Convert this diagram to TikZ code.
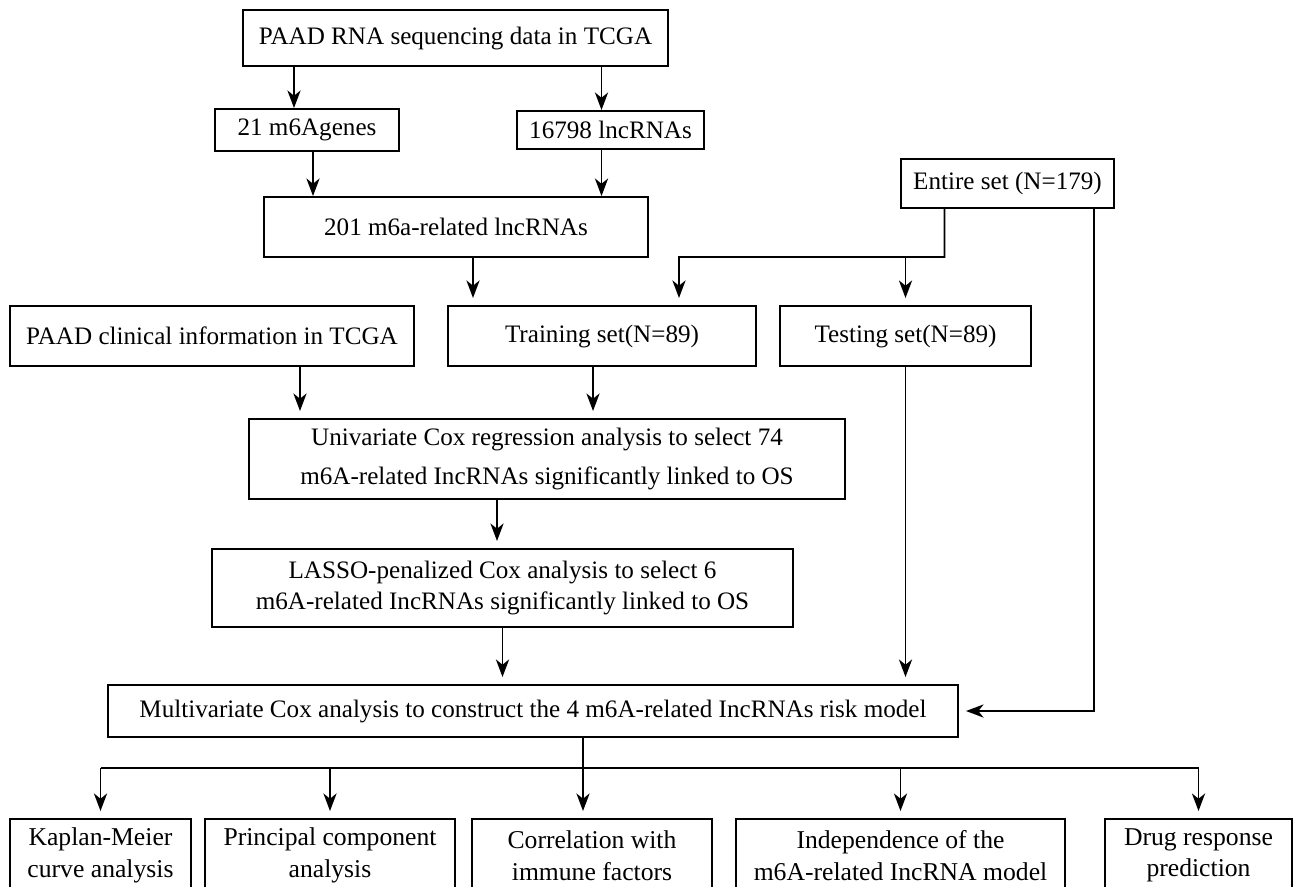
\documentclass[tikz,border=0pt]{standalone}
\usepackage{fontspec}
\setmainfont{Liberation Serif}
\usetikzlibrary{arrows.meta, calc}

\begin{document}
\begin{tikzpicture}[
  x=0.02cm, y=-0.02cm,
  box/.style={rectangle, draw, line width=1.1pt, align=center, inner sep=0pt,
              font=\fontsize{14.3}{18}\selectfont},
  boxsize/.style 2 args={minimum width=#1*0.02cm, minimum height=#2*0.02cm},
  result/.style={box, font=\fontsize{14.6}{18}\selectfont},
  line/.style={line width=0.9pt},
  arrow/.style={-{Stealth[length=10pt, width=7.5pt, inset=3pt]}, line width=0.9pt, shorten >=4pt},
  toparrow/.style={arrow, shorten >=0pt},
]
  \useasboundingbox (0,0) rectangle (1293,886);
  \clip (0,0) rectangle (1293,886);

  % data sources
  \node[box, boxsize={425}{56}] (rnaseq) at (455.5,38) {PAAD RNA sequencing data in TCGA};
  \node[box, boxsize={184}{42}] (mgenes) at (307,130) {21 m6Agenes};
  \node[box, boxsize={187}{38}] (lnc) at (610.5,130) {16798 lncRNAs};
  \node[box, boxsize={384}{60}] (related) at (456,227) {201 m6a-related lncRNAs};
  \node[box, boxsize={213}{49}] (entire) at (1007.5,183.5) {Entire set (N=179)};

  % sets
  \node[box, boxsize={404}{60}] (clinical) at (212,336) {PAAD clinical information in TCGA};
  \node[box, boxsize={308}{60}] (training) at (602,336) {Training set(N=89)};
  \node[box, boxsize={251}{60}] (testing) at (905.5,336) {Testing set(N=89)};

  % model building
  \node[box, boxsize={596}{80}, font=\fontsize{14.3}{22}\selectfont] (univ) at (547,459)
    {Univariate Cox regression analysis to select 74\\m6A-related IncRNAs significantly linked to OS};
  \node[box, boxsize={581}{78}] (lasso) at (502.5,588)
    {LASSO-penalized Cox analysis to select 6\\m6A-related IncRNAs significantly linked to OS};
  \node[box, boxsize={850}{52}] (multi) at (533,711)
    {Multivariate Cox analysis to construct the 4 m6A-related IncRNAs risk model};

  % results
  \node[result, boxsize={181}{73}] (km) at (100.5,855.5) {Kaplan-Meier\\curve analysis};
  \node[result, boxsize={250}{73}] (pca) at (330,855.5) {Principal component\\analysis};
  \node[result, boxsize={240}{73}] (corr) at (592,855.5) {Correlation with\\immune factors};
  \node[result, boxsize={329}{73}] (indep) at (900.5,855.5) {Independence of the\\m6A-related IncRNA model};
  \node[result, boxsize={187}{73}] (drug) at (1198.5,855.5) {Drug response\\prediction};

  \draw[toparrow] ([xshift=-0.26cm]mgenes.north |- rnaseq.south) -- ([xshift=-0.26cm]mgenes.north);
  \draw[toparrow] ([xshift=-0.18cm]lnc.north |- rnaseq.south) -- ([xshift=-0.18cm]lnc.north);
  \draw[toparrow] ([xshift=0.12cm]mgenes.south) -- ([xshift=0.12cm]mgenes.south |- related.north);
  \draw[toparrow] ([xshift=-0.18cm]lnc.south) -- ([xshift=-0.18cm]lnc.south |- related.north);
  \draw[arrow] ([xshift=0.34cm]related.south) -- ([xshift=0.34cm]related.south |- training.north);

  \coordinate (split) at ($(entire.south)+(-63,48)$);
  \draw[arrow] ([xshift=-1.26cm]entire.south) -- (split) -| ([xshift=1.54cm]training.north);
  \draw[arrow] (split -| testing.north) -- (testing.north);
  \draw[arrow] ([xshift=1.73cm]entire.south) |- (multi.east);

  \draw[arrow] ([xshift=1.76cm]clinical.south) -- ([xshift=1.76cm]clinical.south |- univ.north);
  \draw[arrow] ([xshift=-0.18cm]training.south) -- ([xshift=-0.18cm]training.south |- univ.north);
  \draw[arrow] ([xshift=-1cm]univ.south) -- ([xshift=-1cm]univ.south |- lasso.north);
  \draw[arrow] (lasso.south) -- (lasso.south |- multi.north);
  \draw[arrow] (testing.south) -- (testing.south |- multi.north);

  \coordinate (hub) at ($(multi.south)+(50,30)$);
  \draw[line] ([xshift=1cm]multi.south) -- (hub);
  \draw[line] (hub -| km.north) -- (hub -| drug.north);
  \foreach \res in {km, pca, indep, drug}
    \draw[arrow] (hub -| \res.north) -- (\res.north);
  \draw[arrow] (hub) -- (hub |- corr.north);
\end{tikzpicture}
\end{document}
